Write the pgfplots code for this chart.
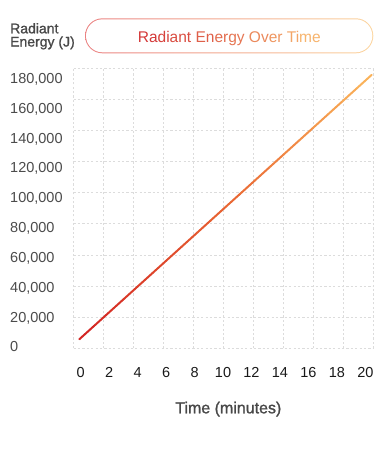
\documentclass[border=0pt]{standalone}
\usepackage{fontspec}
\setmainfont{Liberation Sans}
\newfontfamily\medfont{Liberation Sans}[FakeBold=1.2]
\usepackage{pgfplots}
\pgfplotsset{compat=1.18}
\definecolor{gridc}{RGB}{220,220,220}
\definecolor{ytc}{RGB}{75,75,75}
\definecolor{xtc}{RGB}{25,25,25}
\definecolor{labc}{RGB}{72,72,72}
\definecolor{tA}{RGB}{212,56,56}
\definecolor{tB}{RGB}{249,186,112}
\definecolor{bA}{RGB}{234,128,128}
\definecolor{bB}{RGB}{252,214,160}
\newcommand{\gc}[2]{\textcolor{tB!#1!tA}{#2}}
\begin{document}
\begin{tikzpicture}
\useasboundingbox (0pt,0pt) rectangle (375pt,-450pt);
\begin{axis}[
  at={(73.5pt,-348.3pt)}, anchor=south west,
  scale only axis, width=300pt, height=280pt,
  xmin=-0.397, xmax=20.123, ymin=0, ymax=180000,
  axis line style={draw=none},
  xtick={0.096,2.042,3.989,5.936,7.883,9.829,11.776,13.723,15.670,17.616,19.563},
  xticklabels={0,2,4,6,8,10,12,14,16,18,20},
  ytick={1029,20199,39369,58539,77709,96879,116049,135219,154389,173559},
  yticklabels={0,{20,000},{40,000},{60,000},{80,000},{100,000},{120,000},{140,000},{160,000},{180,000}},
  minor xtick={-0.397,1.655,3.707,5.759,7.811,9.863,11.915,13.967,16.019,18.071,20.123},
  minor ytick={0,20000,40000,60000,80000,100000,120000,140000,160000,180000},
  xminorgrids=true, yminorgrids=true, xmajorgrids=false, ymajorgrids=false,
  minor grid style={gridc, dash pattern=on 2.2pt off 2.2pt, line width=0.8pt},
  major tick length=0pt, minor tick length=0pt,
  xticklabel style={anchor=center, yshift=-24pt, font=\fontsize{14.5}{16}\selectfont, text=xtc},
  yticklabel style={anchor=west, inner sep=0pt, xshift=-63.5pt, text height=10.4pt, text depth=0pt, font=\fontsize{14.5}{16}\selectfont, text=ytc},
  scaled y ticks=false,
  clip=false,
  colormap={grad}{rgb255(0cm)=(210,35,35) rgb255(1cm)=(232,100,50) rgb255(2cm)=(251,182,92)},
]
\addplot[mesh, point meta=x, line width=2pt, line cap=round] coordinates {
(0,5800) (1,14300) (2,22800) (3,31300) (4,39800) (5,48300) (6,56800) (7,65300)
(8,73800) (9,82300) (10,90800) (11,99300) (12,107800) (13,116300) (14,124800)
(15,133300) (16,141800) (17,150300) (18,158800) (19,167300) (20,175800)};
\end{axis}
% title box
\shade[left color=bA, right color=bB, rounded corners=17.5pt] (85pt,-18.3pt) rectangle (373.3pt,-53.3pt);
\fill[white, rounded corners=16.5pt] (86pt,-19.3pt) rectangle (372.3pt,-52.3pt);
\node[anchor=base, inner sep=0pt, font=\fontsize{15.5}{18}\selectfont] at (229.3pt,-42.3pt)
 {\gc{0}{Ra}\gc{8}{di}\gc{16}{ant} \gc{30}{En}\gc{40}{er}\gc{48}{gy} \gc{62}{Ov}\gc{72}{er} \gc{84}{Ti}\gc{95}{me}};
% y label
\node[anchor=base west, inner sep=0pt, font=\medfont\fontsize{14}{16}\selectfont, text=labc] at (10pt,-33.3pt) {Radiant};
\node[anchor=base west, inner sep=0pt, font=\medfont\fontsize{14}{16}\selectfont, text=labc] at (10pt,-46.5pt) {Energy (J)};
% x label
\node[anchor=base, inner sep=0pt, font=\medfont\fontsize{16}{18}\selectfont, text=labc] at (228.3pt,-413.3pt) {Time (minutes)};
\end{tikzpicture}
\end{document}
